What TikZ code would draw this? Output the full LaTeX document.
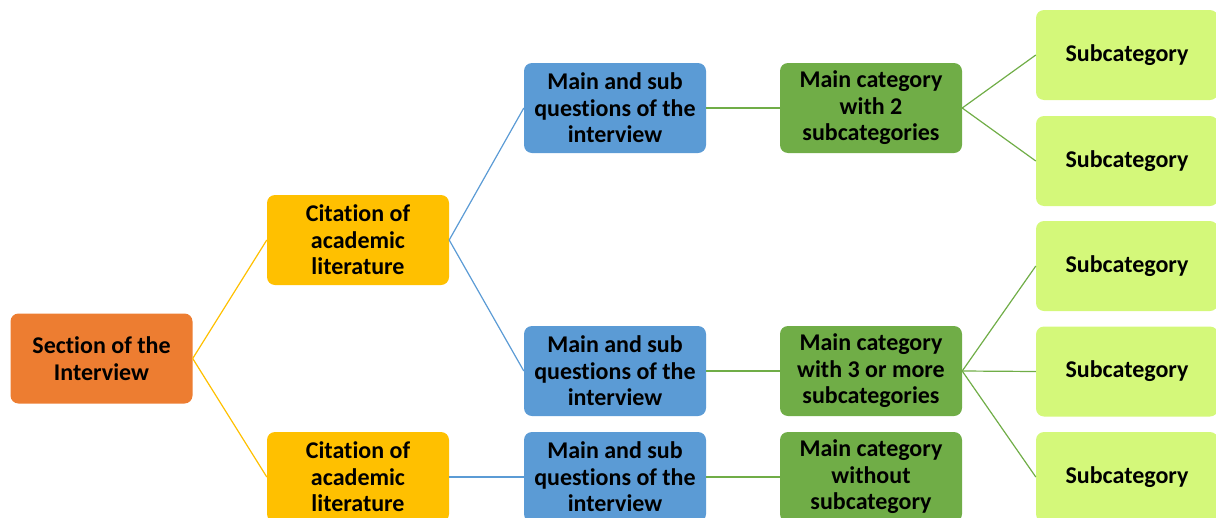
\documentclass[tikz,border=0pt]{standalone}
\usepackage{fontspec}
\setmainfont[Ligatures=NoCommon]{Carlito}
\definecolor{secorange}{RGB}{237,125,49}
\definecolor{citegold}{RGB}{255,192,0}
\definecolor{qblue}{RGB}{91,155,213}
\definecolor{catgreen}{RGB}{112,173,71}
\definecolor{sublime}{RGB}{212,248,122}
\tikzset{
  box/.style={rounded corners=8pt, minimum width=182pt, minimum height=90pt,
    align=center, inner sep=2pt, font=\fontsize{24}{26.5}\selectfont\bfseries, text=black},
  secbox/.style={box, fill=secorange},
  citebox/.style={box, fill=citegold},
  qbox/.style={box, fill=qblue},
  catbox/.style={box, fill=catgreen},
  subbox/.style={box, fill=sublime},
  goldline/.style={draw=citegold, line width=1.2pt},
  blueline/.style={draw=qblue, line width=1.2pt},
  greenline/.style={draw=catgreen, line width=1.2pt}
}
\begin{document}
\begin{tikzpicture}[x=1pt, y=-1pt]
\useasboundingbox (0,0) rectangle (1216,517);
\clip (0,0) rectangle (1216,517);

% root and literature level
\node[secbox] (sec) at (101.5,358.5) {Section of the\\Interview};
\node[citebox] (cite1) at (358,240) {Citation of\\academic\\literature};
\node[citebox] (cite2) at (358,477) {Citation of\\academic\\literature};

% interview questions
\node[qbox] (q1) at (615,108) {Main and sub\\questions of the\\interview};
\node[qbox] (q2) at (615,371) {Main and sub\\questions of the\\interview};
\node[qbox] (q3) at (615,477) {Main and sub\\questions of the\\interview};

% main categories
\node[catbox] (c1) at (871,108) {Main category\\with 2\\subcategories};
\node[catbox] (c2) at (871,371) {Main category\\with 3 or more\\subcategories};
\node[catbox] (c3) at (871,477) {Main category\\without\\subcategory};

% subcategories
\node[subbox] (s1) at (1127,55) {Subcategory};
\node[subbox] (s2) at (1127,161) {Subcategory};
\node[subbox] (s3) at (1127,266) {Subcategory};
\node[subbox] (s4) at (1127,371.5) {Subcategory};
\node[subbox] (s5) at (1127,477) {Subcategory};

% connectors
\draw[goldline] (sec.east) -- (cite1.west);
\draw[goldline] (sec.east) -- (cite2.west);
\draw[blueline] (cite1.east) -- (q1.west);
\draw[blueline] (cite1.east) -- (q2.west);
\draw[blueline] (cite2.east) -- (q3.west);
\draw[greenline] (q1.east) -- (c1.west);
\draw[greenline] (q2.east) -- (c2.west);
\draw[greenline] (q3.east) -- (c3.west);
\draw[greenline] (c1.east) -- (s1.west);
\draw[greenline] (c1.east) -- (s2.west);
\draw[greenline] (c2.east) -- (s3.west);
\draw[greenline] (c2.east) -- (s4.west);
\draw[greenline] (c2.east) -- (s5.west);
\end{tikzpicture}
\end{document}
